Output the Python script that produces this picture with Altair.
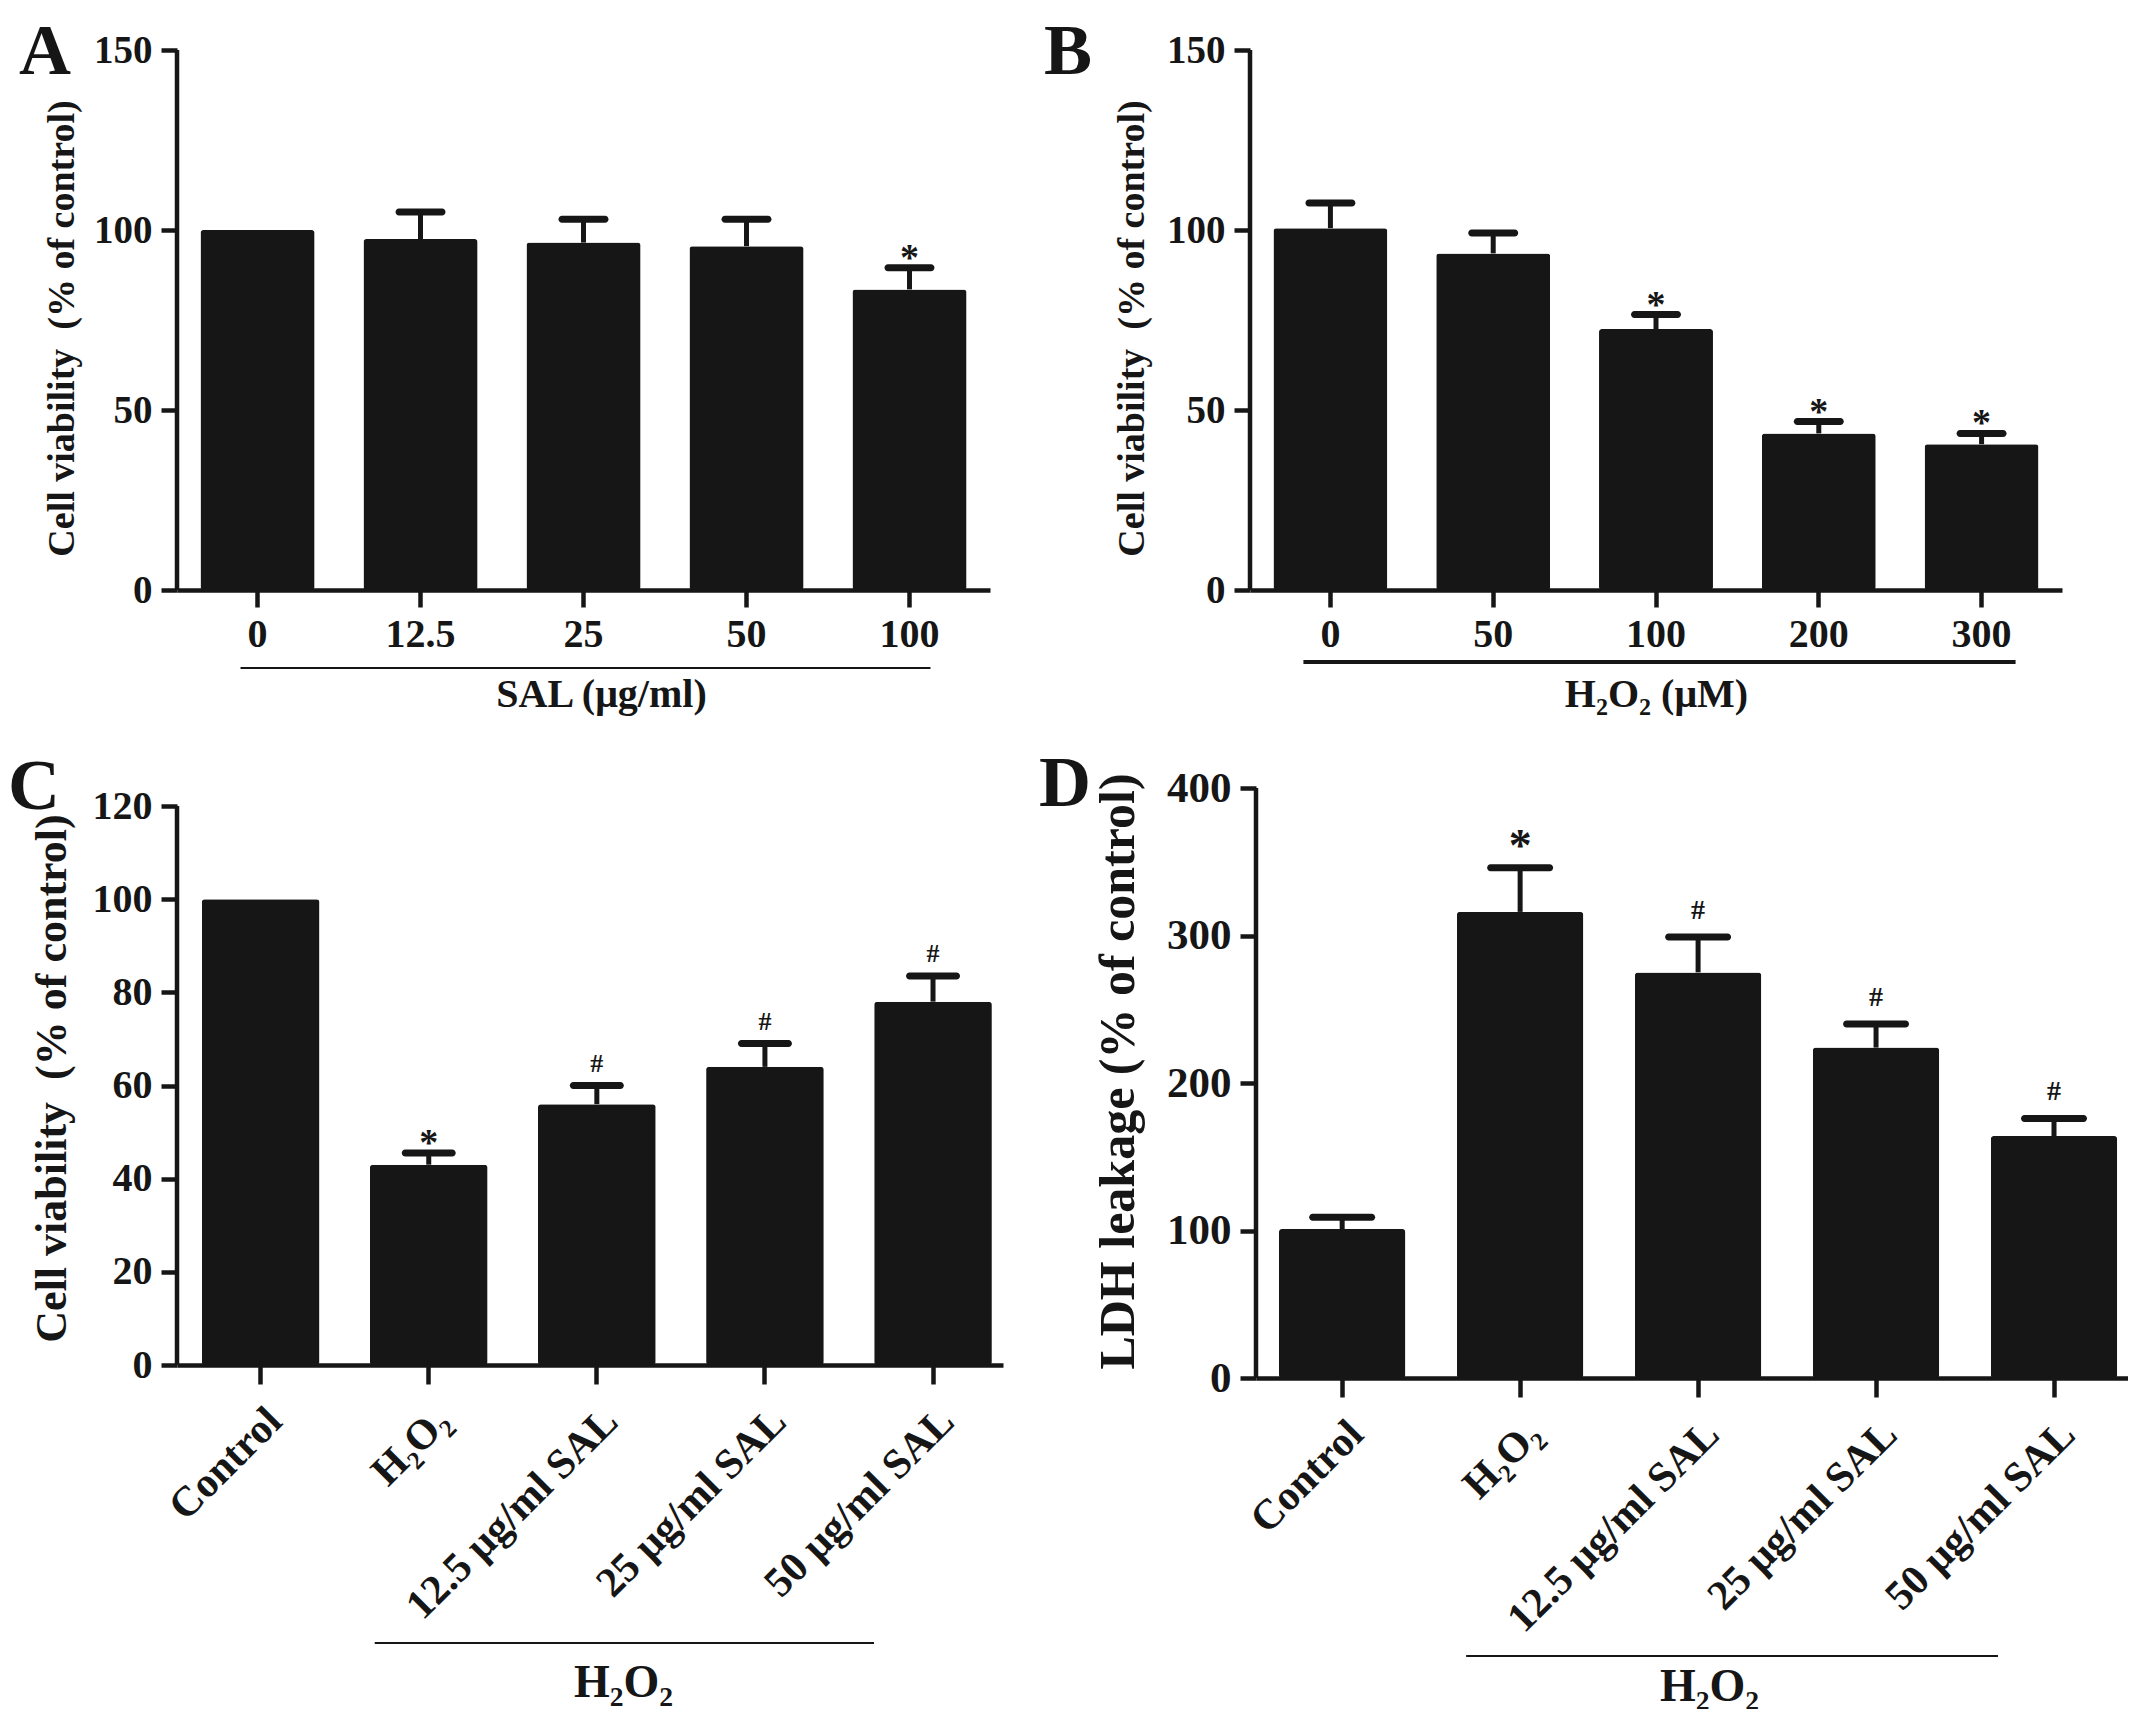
import pandas as pd
import altair as alt

FONT = "Liberation Serif"
INK = "#161616"

# panel letters
letters = ["A", "B", "C", "D"]

# A - cell viability vs SAL concentration
a_cats = ["0", "12.5", "25", "50", "100"]
a_vals = [100, 97.5, 96.5, 95.5, 83.5]
a_errs = [0, 7.5, 6.5, 7.5, 6]
a_sig = ["", "", "", "", "*"]

# B - cell viability vs H2O2 concentration
b_cats = ["0", "50", "100", "200", "300"]
b_vals = [100.5, 93.5, 72.5, 43.5, 40.5]
b_errs = [7, 5.7, 4, 3.3, 3]
b_sig = ["", "", "*", "*", "*"]

# C / D - SAL pretreatment against H2O2
cd_cats = ["Control", "H₂O₂", "12.5 μg/ml SAL", "25 μg/ml SAL", "50 μg/ml SAL"]
c_vals = [100, 43, 56, 64, 78]
c_errs = [0, 2.5, 4, 5, 5.5]
c_sig = ["", "*", "#", "#", "#"]
d_vals = [101, 316, 275, 224, 164]
d_errs = [8, 30, 24, 16, 12]
d_sig = ["", "*", "#", "#", "#"]

VIAB = "Cell viability \u00a0(% of control)"


def panel(letter, cats, vals, errs, sig, p):
    df = pd.DataFrame({
        "cat": cats,
        "val": vals,
        "top": [v + e for v, e in zip(vals, errs)],
        "sig": sig,
    })
    w, h, ext = p["w"], p["h"], p.get("ext", 0)
    # ext = empty room above the top tick (the y axis line stops at ymax)
    ytop = p["ymax"] * (h + ext) / h
    xscale = alt.Scale(domain=cats, paddingInner=p["pin"], paddingOuter=p["pout"], align=p["align"])
    xaxis = alt.Axis(
        title=p["xtitle"], titleFontSize=p["xtsize"], titleX=p["tx"], titleY=p["ty"],
        titleAlign="center", titleBaseline="middle", titleAngle=0,
        labelAngle=p["angle"], labelFontSize=p["xlab"], labelPadding=p["lpad"],
        labelAlign=p["lalign"], labelBaseline="top", tickSize=p["xtick"],
    )
    yaxis = alt.Axis(
        title=p["ytitle"], titleFontSize=p["ytsize"], titleX=p["ytx"], titleY=p["yty"] + ext,
        titleAngle=270, titleAlign="center", titleBaseline="middle", domain=False,
        values=p["yticks"], labelFontSize=p["ylab"], labelPadding=9, tickSize=16,
    )
    x = alt.X("cat:N", scale=xscale, axis=xaxis)
    y = alt.Y("val:Q", scale=alt.Scale(domain=[0, ytop], nice=False), axis=yaxis)

    base = alt.Chart(df)
    bars = base.mark_bar(color=INK, cornerRadius=3).encode(x=x, y=y)
    yline = base.transform_filter(alt.datum.cat == cats[0]).mark_rule(
        color=INK, strokeWidth=4.5).encode(
        x=alt.value(0), y=alt.YDatum(0), y2=alt.Y2Datum(p["ymax"]))
    errbase = base.transform_filter("datum.top > datum.val")
    stems = errbase.mark_rule(color=INK, strokeWidth=5).encode(
        x="cat:N", y="val:Q", y2="top:Q")
    caps = errbase.mark_tick(color=INK, opacity=1, thickness=7, size=p["cap"],
                             cornerRadius=3.5).encode(x="cat:N", y="top:Q")
    stars = base.transform_filter("datum.sig == '*'").mark_text(
        font=FONT, fontWeight="bold", fontSize=p["star"], color=INK,
        baseline="alphabetic", dy=p["stardy"]).encode(x="cat:N", y="top:Q", text="sig:N")
    hashes = base.transform_filter("datum.sig == '#'").mark_text(
        font=FONT, fontWeight="bold", fontSize=p["hash"], color=INK,
        baseline="alphabetic", dy=p["hashdy"]).encode(x="cat:N", y="top:Q", text="sig:N")
    line = base.transform_filter(alt.datum.cat == cats[0]).mark_rule(
        color=INK, strokeWidth=p["lw"], xOffset=p["lo1"], x2Offset=p["lo2"]).encode(
        x=alt.XDatum(p["l1"], type="nominal"), x2=alt.X2Datum(cats[-1]),
        y=alt.value(h + ext + p["ly"]))
    lab = alt.Chart(pd.DataFrame({"t": [letter]})).mark_text(
        font=FONT, fontWeight="bold", fontSize=72, color=INK,
        align="left", baseline="alphabetic").encode(
        text="t:N", x=alt.value(p["lx"]), y=alt.value(p["lyy"]))
    return alt.layer(bars, yline, stems, caps, stars, hashes, line, lab).properties(
        width=w, height=h + ext)


common_ab = dict(pin=0.3, pout=0.144, align=0.5, angle=0, xlab=40, lpad=7, lalign="center",
                 xtick=17, ymax=150, yticks=[0, 50, 100, 150], ylab=39, h=540,
                 ytitle=VIAB, ytsize=38, cap=50, xtsize=40,
                 star=38, stardy=2, hash=26, hashdy=-14, ty=104)

pa = dict(common_ab, w=813, xtitle="SAL (μg/ml)", ytx=-115, yty=278, tx=424,
          lw=2, l1="0", lo1=-17, lo2=21, ly=78, lx=-158, lyy=24)
pb = dict(common_ab, w=812, xtitle="H₂O₂ (μM)", ytx=-118, yty=278, tx=406,
          lw=4, l1="0", lo1=-27, lo2=34, ly=72, lx=-206, lyy=24)
pc = dict(pin=0.3, pout=0.107, align=0.69, angle=315, xlab=42, lpad=16, lalign="right",
          xtick=19, ymax=120, yticks=[0, 20, 40, 60, 80, 100, 120], ylab=40, h=559, w=826,
          ext=18, ytitle=VIAB, ytsize=44, ytx=-125, yty=272,
          cap=54, star=38, stardy=2, hash=26, hashdy=-14,
          xtitle="H₂O₂", xtsize=46, tx=446, ty=317,
          lw=2, l1="H₂O₂", lo1=-54, lo2=-59, ly=278, lx=-169, lyy=21)
pd_ = dict(pin=0.29, pout=0.095, align=0.68, angle=315, xlab=42, lpad=16, lalign="right",
           xtick=19, ymax=400, yticks=[0, 100, 200, 300, 400], ylab=43, h=590, w=872,
           ytitle="LDH leakage (% of control)", ytsize=50, ytx=-138, yty=283,
           cap=66, star=46, stardy=-7, hash=28, hashdy=-18,
           xtitle="H₂O₂", xtsize=46, tx=453, ty=308,
           lw=2, l1="H₂O₂", lo1=-54, lo2=-56, ly=278, lx=-217, lyy=18)

chart_a = panel(letters[0], a_cats, a_vals, a_errs, a_sig, pa)
chart_b = panel(letters[1], b_cats, b_vals, b_errs, b_sig, pb)
chart_c = panel(letters[2], cd_cats, c_vals, c_errs, c_sig, pc)
chart_d = panel(letters[3], cd_cats, d_vals, d_errs, d_sig, pd_)

chart = alt.vconcat(
    alt.hconcat(chart_a, chart_b, spacing=54),
    alt.hconcat(chart_c, chart_d, spacing=36),
    spacing=34,
).properties(
    padding={"left": 0, "top": 8, "right": 0, "bottom": 0},
).configure_view(stroke=None).configure_axis(
    domainColor=INK, domainWidth=4.5, tickColor=INK, tickWidth=4.5,
    labelColor=INK, titleColor=INK, labelFont=FONT, titleFont=FONT,
    labelFontWeight="bold", titleFontWeight="bold", grid=False,
    labelOverlap=False, labelLimit=0,
)

chart.save("out.html", embed_options={"renderer": "svg", "actions": False})
